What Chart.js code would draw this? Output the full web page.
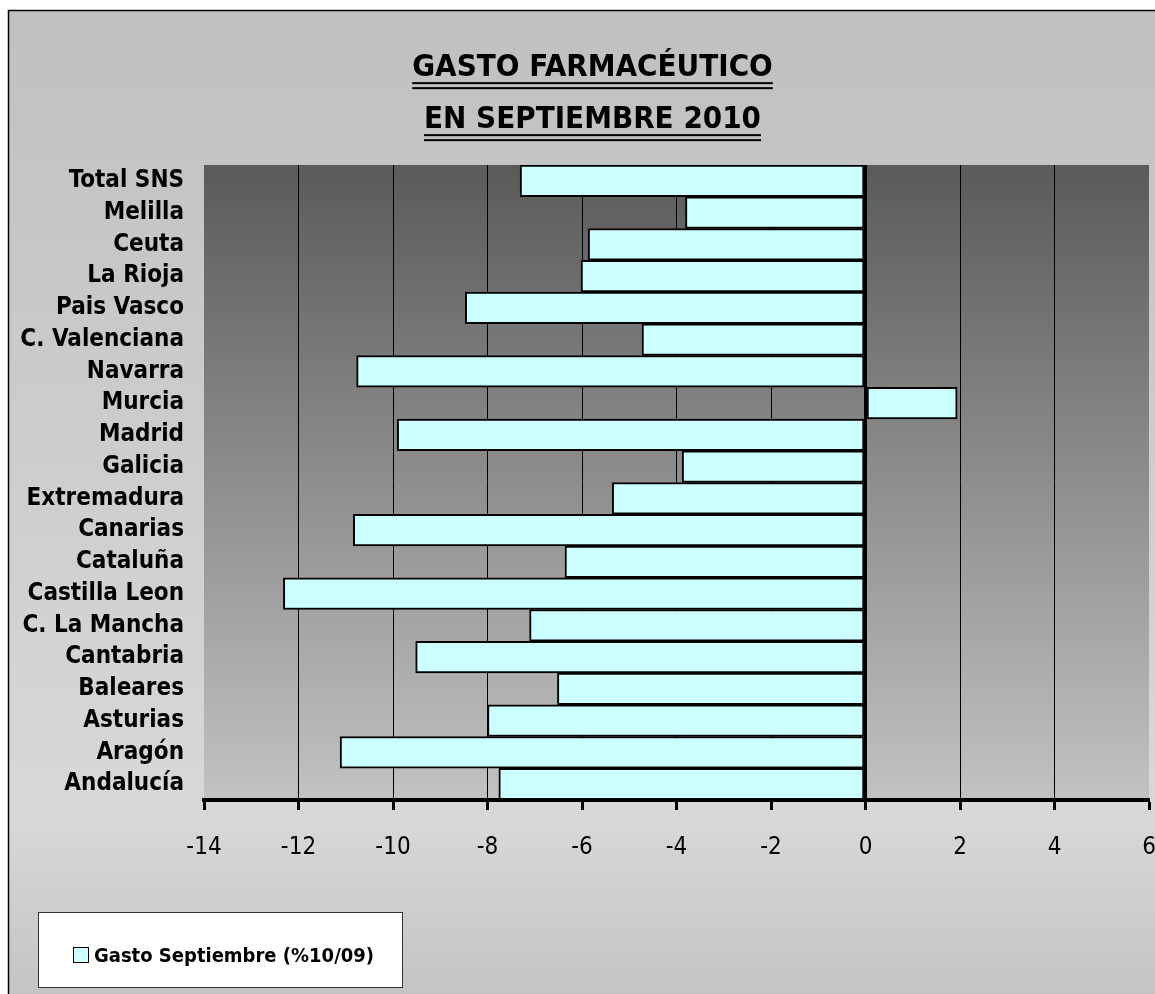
<!DOCTYPE html>
<html lang="es">
<head>
    <meta charset="UTF-8">
    <title>Gasto farmacéutico septiembre 2010</title>
    <script src="https://cdn.jsdelivr.net/npm/chart.js@4.4.0/dist/chart.umd.min.js"></script>
    <style>
        body { margin: 0; background: #fff; }
        canvas { display: block; }
    </style>
</head>
<body>
<canvas id="grafica" width="1155" height="994"></canvas>
<script>
    // datos (de arriba a abajo)
    const categorias = ['Total SNS', 'Melilla', 'Ceuta', 'La Rioja', 'Pais Vasco', 'C. Valenciana', 'Navarra',
        'Murcia', 'Madrid', 'Galicia', 'Extremadura', 'Canarias', 'Cataluña', 'Castilla Leon',
        'C. La Mancha', 'Cantabria', 'Baleares', 'Asturias', 'Aragón', 'Andalucía'];
    const gastoSeptiembre = [-7.31, -3.81, -5.87, -6.02, -8.47, -4.73, -10.77, 1.94, -9.91, -3.88,
        -5.36, -10.84, -6.36, -12.32, -7.11, -9.52, -6.52, -8.00, -11.12, -7.76];
    const nombreSerie = 'Gasto Septiembre (%10/09)';
    const titulo = ['GASTO FARMACÉUTICO', 'EN SEPTIEMBRE 2010'];
    const ejeMin = -14, ejeMax = 6, ejePaso = 2;

    const FUENTE = "'Arial Narrow', 'Liberation Sans Narrow', 'DejaVu Sans Condensed', sans-serif";
    const CIAN = '#ccffff';

    // fondo del marco y del area de trazado
    const fondo = {
        id: 'fondo',
        beforeDraw(chart) {
            const ctx = chart.ctx, a = chart.chartArea;
            // centrar el titulo sobre el marco y no sobre todo el lienzo
            if (chart.titleBlock) {
                chart.titleBlock.left = 30;
                chart.titleBlock.right = chart.width;
            }
            ctx.save();
            ctx.fillStyle = '#fff';
            ctx.fillRect(0, 0, chart.width, chart.height);
            let g = ctx.createLinearGradient(0, 10, 0, chart.height);
            g.addColorStop(0, '#c0c0c0');
            g.addColorStop(0.82, '#d8d8d8');
            g.addColorStop(1, '#c4c4c4');
            ctx.fillStyle = g;
            ctx.fillRect(8, 10, chart.width, chart.height);
            ctx.strokeStyle = '#000';
            ctx.lineWidth = 1.5;
            ctx.beginPath();
            ctx.moveTo(8.5, chart.height + 5);
            ctx.lineTo(8.5, 10.5);
            ctx.lineTo(chart.width + 5, 10.5);
            ctx.stroke();
            g = ctx.createLinearGradient(0, a.top, 0, a.bottom);
            g.addColorStop(0, '#5a5a5a');
            g.addColorStop(1, '#c2c2c2');
            ctx.fillStyle = g;
            ctx.fillRect(a.left, a.top, a.right - a.left, a.bottom - a.top);
            ctx.restore();
        }
    };

    // doble subrayado del titulo y leyenda en recuadro blanco
    const extras = {
        id: 'extras',
        afterDraw(chart) {
            const ctx = chart.ctx;
            const tb = chart.titleBlock;
            const to = chart.options.plugins.title;
            const fs = to.font.size, lh = fs * to.font.lineHeight;
            ctx.save();
            ctx.font = 'bold ' + fs + 'px ' + FUENTE;
            ctx.fillStyle = '#000';
            const cx = (tb.left + tb.right) / 2;
            titulo.forEach((t, i) => {
                const w = ctx.measureText(t).width;
                const yc = tb.top + to.padding.top + lh * (i + 0.5);
                const base = yc + fs * 0.36;
                ctx.fillRect(cx - w / 2, base + 3, w, 2);
                ctx.fillRect(cx - w / 2, base + 8, w, 2);
            });

            // leyenda
            ctx.fillStyle = '#fff';
            ctx.fillRect(38, 912, 364, 75);
            ctx.strokeStyle = '#333';
            ctx.lineWidth = 1;
            ctx.strokeRect(38.5, 912.5, 364, 75);
            ctx.fillStyle = CIAN;
            ctx.fillRect(73.5, 947.5, 15, 15);
            ctx.strokeStyle = '#000';
            ctx.strokeRect(73.5, 947.5, 15, 15);
            ctx.fillStyle = '#000';
            ctx.font = 'bold 20px ' + FUENTE;
            ctx.textBaseline = 'alphabetic';
            ctx.fillText(chart.data.datasets[0].label, 94, 962);
            ctx.restore();
        }
    };

    new Chart(document.getElementById('grafica'), {
        type: 'bar',
        data: {
            labels: categorias,
            datasets: [{
                label: nombreSerie,
                data: gastoSeptiembre,
                backgroundColor: CIAN,
                borderColor: '#000',
                borderWidth: 2,
                borderSkipped: false,
                barPercentage: 1,
                categoryPercentage: 1
            }]
        },
        options: {
            indexAxis: 'y',
            responsive: false,
            animation: false,
            layout: { padding: { left: 0, right: 0, top: 0, bottom: 124 } },
            plugins: {
                legend: { display: false },
                tooltip: { enabled: false },
                title: {
                    display: true,
                    text: titulo,
                    color: '#000',
                    font: { family: FUENTE, size: 31, weight: 'bold', lineHeight: 1.677 },
                    padding: { top: 42, bottom: 19 }
                }
            },
            scales: {
                x: {
                    min: ejeMin,
                    max: ejeMax,
                    afterFit(s) {
                        s.height = 70;
                        s.paddingRight = 6;
                        s.paddingLeft = 0;
                    },
                    ticks: {
                        stepSize: ejePaso,
                        color: '#000',
                        padding: 23,
                        font: { family: FUENTE, size: 24 }
                    },
                    grid: {
                        color: c => (c.tick && (c.tick.value === ejeMin || c.tick.value === ejeMax)) ? 'rgba(0,0,0,0)' : '#000',
                        lineWidth: c => (c.tick && c.tick.value === 0) ? 3 : 1,
                        tickColor: '#000',
                        tickWidth: 3,
                        tickLength: 10
                    },
                    border: { color: '#000', width: 4, z: 1 }
                },
                y: {
                    afterFit(s) { s.width = 204; },
                    ticks: {
                        autoSkip: false,
                        color: '#000',
                        padding: 20,
                        font: { family: FUENTE, size: 24, weight: 'bold' }
                    },
                    grid: { display: false, drawTicks: false },
                    border: { display: false }
                }
            }
        },
        plugins: [fondo, extras]
    });
</script>
</body>
</html>
